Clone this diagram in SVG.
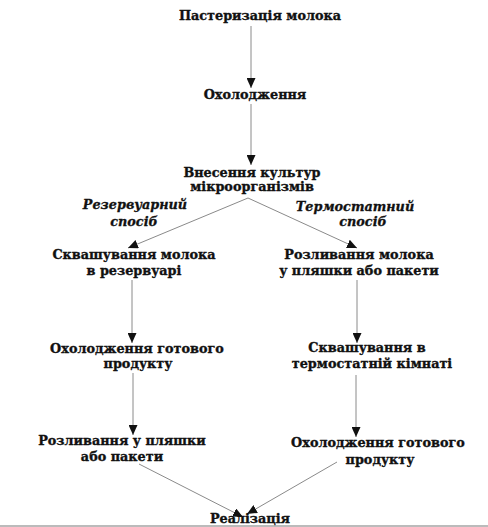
<svg xmlns="http://www.w3.org/2000/svg" width="488" height="527" viewBox="0 0 488 527">
<style>
.t{font-family:"DejaVu Serif","Liberation Serif",serif;font-weight:bold;font-size:12.8px;fill:#111;stroke:#111;stroke-width:0.35;text-anchor:middle}
.i{font-family:"DejaVu Serif","Liberation Serif",serif;font-weight:bold;font-style:italic;font-size:12.8px;fill:#111;stroke:#111;stroke-width:0.3;text-anchor:middle}
.c{stroke:#8a8a8a;stroke-width:1;fill:none;marker-end:url(#ah)}
</style>
<defs>
<marker id="ah" markerUnits="userSpaceOnUse" markerWidth="11" markerHeight="9" refX="10" refY="4.5" orient="auto">
<path d="M0,0 L10,4.5 L0,9 z" fill="#111"/>
</marker>
</defs>
<rect width="488" height="527" fill="#fff"/>
<rect x="0" y="525" width="488" height="2" fill="#bbb"/>
<g id="connectors">
<line class="c" x1="251" y1="26" x2="251" y2="88"/>
<line class="c" x1="251" y1="104" x2="251" y2="165"/>
<line class="c" x1="248" y1="198" x2="128" y2="248"/>
<line class="c" x1="248" y1="198" x2="357" y2="248"/>
<line class="c" x1="132" y1="280" x2="132" y2="343"/>
<line class="c" x1="357" y1="280" x2="357" y2="343"/>
<line class="c" x1="133" y1="373" x2="133" y2="435"/>
<line class="c" x1="356" y1="375" x2="356" y2="437"/>
<line class="c" x1="139" y1="464" x2="243" y2="517"/>
<line class="c" x1="337" y1="462" x2="247" y2="514"/>
</g>
<g id="n1"><text class="t" x="260" y="20">Пастеризація молока</text></g>
<g id="n2"><text class="t" x="255" y="99">Охолодження</text></g>
<g id="n3"><text class="t" x="252" y="177">Внесення культур</text><text class="t" x="252" y="191">мікроорганізмів</text></g>
<g id="lbl-left"><text class="i" x="135" y="209">Резервуарний</text><text class="i" x="134" y="226">спосіб</text></g>
<g id="lbl-right"><text class="i" x="355" y="211">Термостатний</text><text class="i" x="363" y="226">спосіб</text></g>
<g id="n4"><text class="t" x="134" y="259">Сквашування молока</text><text class="t" x="134" y="275">в резервуарі</text></g>
<g id="n5"><text class="t" x="359" y="259">Розливання молока</text><text class="t" x="359" y="275">у пляшки або пакети</text></g>
<g id="n6"><text class="t" x="137" y="353">Охолодження готового</text><text class="t" x="138" y="368">продукту</text></g>
<g id="n7"><text class="t" x="367" y="352">Сквашування в</text><text class="t" x="372" y="368">термостатній кімнаті</text></g>
<g id="n8"><text class="t" x="122" y="445">Розливання у пляшки</text><text class="t" x="122" y="461">або пакети</text></g>
<g id="n9"><text class="t" x="378" y="447">Охолодження готового</text><text class="t" x="380" y="464">продукту</text></g>
<g id="n10"><text class="t" x="250" y="523">Реалізація</text></g>
</svg>
